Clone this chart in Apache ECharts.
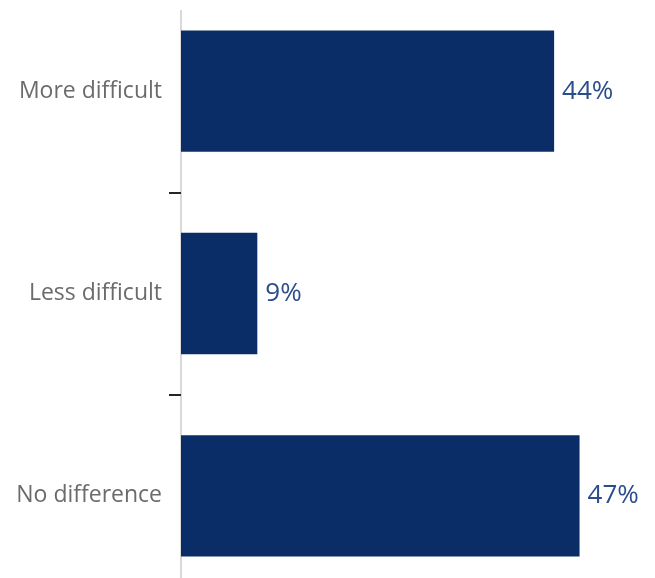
<!DOCTYPE html>
<html>
<head>
<meta charset="utf-8">
<script src="https://cdn.jsdelivr.net/npm/echarts@6/dist/echarts.min.js"></script>
<style>
  html, body { margin: 0; padding: 0; background: #ffffff; overflow: hidden; }
  body { width: 655px; height: 578px; position: relative; }
  /* the plot bands run a little past the top and bottom edges */
  #chart { position: absolute; left: 0; top: -10px; width: 655px; height: 607px; }
</style>
</head>
<body>
<div id="chart"></div>
<script>
// Survey answers, top to bottom
const categories = ['More difficult', 'Less difficult', 'No difference'];
const shares = [44, 9, 47];

const GRID_LEFT = 181;
const SHIFT = 10; // chart container offset above the page top

const chart = echarts.init(document.getElementById('chart'), null, { renderer: 'canvas' });

chart.setOption({
  animation: false,
  backgroundColor: '#ffffff',
  grid: { left: GRID_LEFT, right: 50, top: 0, bottom: 0, containLabel: false },
  xAxis: {
    type: 'value',
    min: 0,
    max: 50,
    show: false
  },
  yAxis: {
    type: 'category',
    data: categories,
    inverse: true,
    boundaryGap: true,
    axisLine: { show: false },
    axisTick: {
      show: true,
      length: 12,
      lineStyle: { color: '#262626', width: 2 }
    },
    axisLabel: {
      margin: 19,
      color: '#6b6b6b',
      fontFamily: '"Open Sans", "Noto Sans", sans-serif',
      fontSize: 23
    },
    splitLine: { show: false }
  },
  series: [{
    type: 'bar',
    data: shares,
    barWidth: '60%',
    itemStyle: { color: '#0a2d67' },
    label: {
      show: true,
      position: 'right',
      distance: 8,
      formatter: p => p.value + '%',
      color: '#2b4d8c',
      fontFamily: '"Open Sans", "Noto Sans", sans-serif',
      fontSize: 26
    }
  }],
  graphic: [{
    // value axis baseline, starting just above the first bar
    type: 'line',
    z: 0,
    shape: { x1: GRID_LEFT, y1: 10 + SHIFT, x2: GRID_LEFT, y2: 578 + SHIFT },
    style: { stroke: '#d9d9d9', lineWidth: 2 }
  }]
});
</script>
</body>
</html>
